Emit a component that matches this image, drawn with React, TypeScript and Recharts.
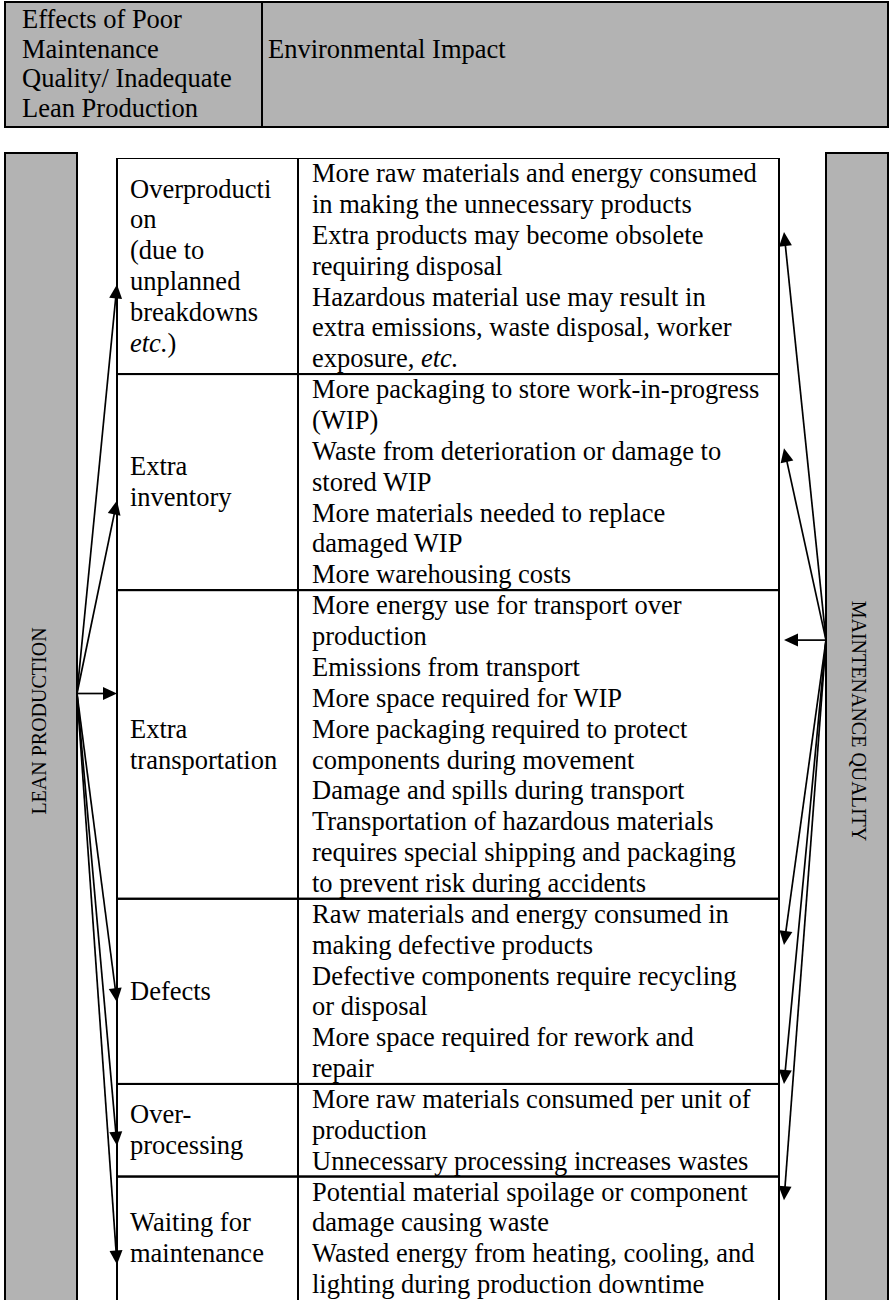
import React from 'react';
import { BarChart, Bar, XAxis, YAxis, Customized } from 'recharts';

// ---------------- data ----------------
const headerLeftLines: string[] = ['Effects of Poor', 'Maintenance', 'Quality/ Inadequate', 'Lean Production'];
const headerRightText = 'Environmental Impact';
const sideLeftLabel = 'LEAN PRODUCTION';
const sideRightLabel = 'MAINTENANCE QUALITY';

const categoryLines: string[][] = [
  ['Overproducti', 'on', '(due to', 'unplanned', 'breakdowns', 'etc.)'],
  ['Extra', 'inventory'],
  ['Extra', 'transportation'],
  ['Defects'],
  ['Over-', 'processing'],
  ['Waiting for', 'maintenance'],
];

const impactLines: string[][] = [
  [
    'More raw materials and energy consumed',
    'in making the unnecessary products',
    'Extra products may become obsolete',
    'requiring disposal',
    'Hazardous material use may result in',
    'extra emissions, waste disposal, worker',
    'exposure, etc.',
  ],
  [
    'More packaging to store work-in-progress',
    '(WIP)',
    'Waste from deterioration or damage to',
    'stored WIP',
    'More materials needed to replace',
    'damaged WIP',
    'More warehousing costs',
  ],
  [
    'More energy use for transport over',
    'production',
    'Emissions from transport',
    'More space required for WIP',
    'More packaging required to protect',
    'components during movement',
    'Damage and spills during transport',
    'Transportation of hazardous materials',
    'requires special shipping and packaging',
    'to prevent risk during accidents',
  ],
  [
    'Raw materials and energy consumed in',
    'making defective products',
    'Defective components require recycling',
    'or disposal',
    'More space required for rework and',
    'repair',
  ],
  [
    'More raw materials consumed per unit of',
    'production',
    'Unnecessary processing increases wastes',
  ],
  [
    'Potential material spoilage or component',
    'damage causing waste',
    'Wasted energy from heating, cooling, and',
    'lighting during production downtime',
  ],
];

// arrow tip positions, in text-line units measured from each row's top
const leftArrowAt: number[] = [4.1, 4.1, 3.35, 3.35, 2.0, 2.85];
const rightArrowAt: number[] = [2.4, 2.4, 1.62, 1.5, 0.0, 0.77];
const hubRow = 2; // arrows fan out from the level of the horizontal arrow in this row

// ---------------- derived ----------------
const rowSizes = impactLines.map((l) => l.length);
const rowKeys = rowSizes.map((_, i) => `row${i}`);
const totalLines = rowSizes.reduce((a, b) => a + b, 0);
const cumBefore = rowSizes.map((_, i) => rowSizes.slice(0, i).reduce((a, b) => a + b, 0));
const tableData = [
  Object.fromEntries([['name', 'table'], ...rowKeys.map((k, i) => [k, rowSizes[i]])]),
];

// ---------------- layout / style ----------------
const W = 890;
const H = 1300;
const TABLE_LEFT = 117;
const TABLE_RIGHT = 779;
const TABLE_TOP = 158;
const CAT_W = 181;
const CAT_PAD = 13;
const IMP_PAD = 14;
const LEFT_HUB_X = 77;
const RIGHT_HUB_X = 826;
const RIGHT_TIP_GAP = 5;
const FONT = 26.5;
const FAMILY = "'Liberation Serif', 'Times New Roman', serif";
const GRAY = '#b3b3b3';
const BASE_FRAC = 0.78;

function rich(line: string) {
  const parts = line.split(/(etc\.)/);
  return parts
    .filter((p) => p.length > 0)
    .map((p, k) =>
      p === 'etc.' ? (
        <tspan key={k} fontStyle="italic">
          {p}
        </tspan>
      ) : (
        <tspan key={k}>{p}</tspan>
      ),
    );
}

function Arrow({ x1, y1, x2, y2 }: { x1: number; y1: number; x2: number; y2: number }) {
  const dx = x2 - x1;
  const dy = y2 - y1;
  const len = Math.hypot(dx, dy) || 1;
  const ux = dx / len;
  const uy = dy / len;
  const L = 14;
  const HW = 6.5;
  const bx = x2 - ux * L;
  const by = y2 - uy * L;
  const px = -uy;
  const py = ux;
  return (
    <g>
      <line x1={x1} y1={y1} x2={bx + ux * 2} y2={by + uy * 2} stroke="#000" strokeWidth={1.7} />
      <polygon
        points={`${x2},${y2} ${bx + px * HW},${by + py * HW} ${bx - px * HW},${by - py * HW}`}
        fill="#000"
      />
    </g>
  );
}

function RowShape(props: any) {
  const { x, y, width, height, row } = props;
  const i: number = row;
  const top = Math.min(y, y + height);
  const h = Math.abs(height);
  const unit = h / rowSizes[i];
  const plotTop = top - cumBefore[i] * unit;
  const toY = (v: number) => plotTop + v * unit;
  const impX = x + CAT_W;
  const right = x + width;
  const cat = categoryLines[i];
  const imp = impactLines[i];
  const catStart = top + (h - cat.length * unit) / 2;
  const leftHubY = toY(cumBefore[hubRow] + leftArrowAt[hubRow]);
  const rightHubY = toY(cumBefore[hubRow] + rightArrowAt[hubRow]);
  const leftTipY = toY(cumBefore[i] + leftArrowAt[i]);
  const rightTipY = toY(cumBefore[i] + rightArrowAt[i]);
  // the table continues past the page edge, so the last row has no visible bottom rule
  const boxH = i === rowSizes.length - 1 ? h + 6 : h;
  return (
    <g>
      <rect x={x} y={top} width={CAT_W} height={boxH} fill="none" stroke="#000" strokeWidth={2} />
      <rect x={impX} y={top} width={width - CAT_W} height={boxH} fill="none" stroke="#000" strokeWidth={2} />
      {cat.map((line, k) => (
        <text
          key={`c${k}`}
          x={x + CAT_PAD}
          y={catStart + k * unit + unit * BASE_FRAC}
          fontFamily={FAMILY}
          fontSize={FONT}
          fill="#000"
        >
          {rich(line)}
        </text>
      ))}
      {imp.map((line, k) => (
        <text
          key={`i${k}`}
          x={impX + IMP_PAD}
          y={top + k * unit + unit * BASE_FRAC}
          fontFamily={FAMILY}
          fontSize={FONT}
          fill="#000"
        >
          {rich(line)}
        </text>
      ))}
      <Arrow x1={LEFT_HUB_X} y1={leftHubY} x2={x} y2={leftTipY} />
      <Arrow x1={RIGHT_HUB_X} y1={rightHubY} x2={right + RIGHT_TIP_GAP} y2={rightTipY} />
    </g>
  );
}

function Decor() {
  return (
    <g>
      {/* header */}
      <rect x={5} y={2} width={883} height={125} fill={GRAY} stroke="#000" strokeWidth={2} />
      <line x1={262} y1={2} x2={262} y2={127} stroke="#000" strokeWidth={2} />
      {headerLeftLines.map((t, k) => (
        <text key={k} x={22} y={28 + k * 29.5} fontFamily={FAMILY} fontSize={FONT} fill="#000">
          {t}
        </text>
      ))}
      <text x={268} y={57.5} fontFamily={FAMILY} fontSize={FONT} fill="#000">
        {headerRightText}
      </text>
      {/* side columns */}
      <rect x={5} y={153} width={72} height={1170} fill={GRAY} stroke="#000" strokeWidth={2} />
      <rect x={826} y={153} width={62} height={1170} fill={GRAY} stroke="#000" strokeWidth={2} />
      <text
        x={0}
        y={0}
        transform={`translate(46, 721) rotate(-90)`}
        textAnchor="middle"
        fontFamily={FAMILY}
        fontSize={20}
        fill="#000"
      >
        {sideLeftLabel}
      </text>
      <text
        x={0}
        y={0}
        transform={`translate(852, 721) rotate(90)`}
        textAnchor="middle"
        fontFamily={FAMILY}
        fontSize={20}
        fill="#000"
      >
        {sideRightLabel}
      </text>
    </g>
  );
}

export default function App() {
  return (
    <div
      style={{
        position: 'absolute',
        left: 0,
        top: 0,
        width: W,
        height: H,
        overflow: 'hidden',
        background: '#fff',
      }}
    >
      <BarChart
        width={W}
        height={H}
        data={tableData}
        margin={{ top: TABLE_TOP, right: W - TABLE_RIGHT, bottom: 0, left: TABLE_LEFT }}
        barCategoryGap={0}
        barGap={0}
      >
        <Customized component={Decor} />
        <XAxis dataKey="name" hide />
        <YAxis type="number" domain={[0, totalLines]} allowDataOverflow reversed hide />
        {rowKeys.map((k, i) => (
          <Bar
            key={k}
            dataKey={k}
            stackId="table"
            isAnimationActive={false}
            shape={(p: any) => <RowShape {...p} row={i} />}
          />
        ))}
      </BarChart>
    </div>
  );
}
